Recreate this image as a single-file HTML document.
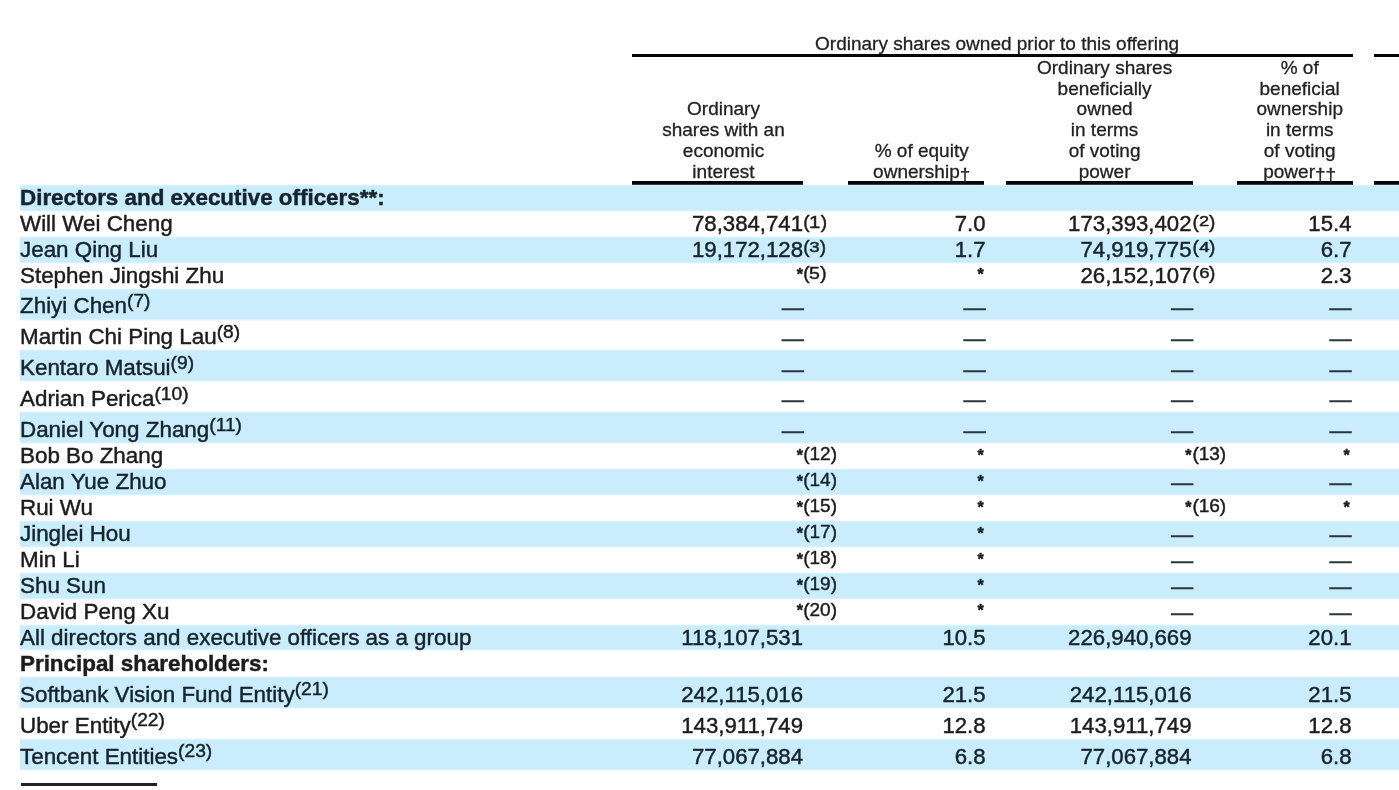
<!DOCTYPE html><html><head><meta charset="utf-8"><title>Ownership table</title><style>
html,body{margin:0;padding:0;background:#fff;}
body{width:1399px;height:790px;overflow:hidden;position:relative;font-family:"Liberation Sans",sans-serif;color:#1c1c1c;}
.row{position:absolute;left:20px;width:1420px;white-space:nowrap;font-size:22.4px;}
.row.s::before{content:'';position:absolute;left:0;right:0;top:-1px;bottom:-1px;background:linear-gradient(to bottom,rgba(201,237,253,0) 0,#c9edfd 2px,#c9edfd calc(100% - 2px),rgba(201,237,253,0) 100%);}
#w{position:absolute;left:0;top:0;width:1440px;height:830px;filter:blur(0.7px);}
.row span{position:absolute;white-space:nowrap;line-height:1;-webkit-text-stroke:0.45px #1c1c1c;}
.row.s span{color:#15232d;-webkit-text-stroke-color:#15232d;}
.n{left:0;}
.b{font-weight:bold;}
.c1,.c2,.c3,.c4{font-size:22.2px;}
.c1{right:637px;}
.c2{right:454.4px;}
.c3{right:248.5px;}
.c4{right:88.5px;}
.f{font-size:19px !important;}
.f i{font-style:normal;position:relative;display:inline-block;}
.a{font-size:16px;font-weight:bold;}
.d{-webkit-text-stroke:0.35px #2c3740 !important;color:#2c3740 !important;}
.c1.d{margin-right:-1px;}.c3.d{margin-right:-1.7px;}.c4.d{margin-right:-0.3px;}
.c2.a,.c4.a{margin-right:1.9px;}
.f1{left:783.2px;}
.f3{left:1172.4px;}
sup{font-size:19.2px;vertical-align:baseline;position:relative;top:-6.5px;line-height:0;}
.hl{position:absolute;background:#050505;height:2.9px;margin-top:0.05px;}
.h{position:absolute;text-align:center;font-size:19px;line-height:20.75px;white-space:nowrap;color:#222;-webkit-text-stroke:0.3px #222;margin-top:0.4px;}
.h b{font-weight:normal;position:relative;top:3px;}
</style></head><body><div id="w">
<div class="hl" style="left:632px;width:721px;top:54px"></div>
<div class="hl" style="left:1374px;width:60px;top:54px"></div>
<div class="hl" style="left:632px;width:171px;top:181.4px;height:3.3px"></div>
<div class="hl" style="left:848px;width:136px;top:181.4px;height:3.3px"></div>
<div class="hl" style="left:1006px;width:187px;top:181.4px;height:3.3px"></div>
<div class="hl" style="left:1237px;width:116px;top:181.4px;height:3.3px"></div>
<div class="hl" style="left:1374px;width:60px;top:181.4px;height:3.3px"></div>
<div class="h" style="left:636.6px;width:721px;top:34.05px">Ordinary shares owned prior to this offering</div>
<div class="h" style="left:638px;width:171px;top:99px">Ordinary<br>shares with an<br>economic<br>interest</div>
<div class="h" style="left:853.7px;width:136px;top:140.5px">% of equity<br>ownership<b>†</b></div>
<div class="h" style="left:1011.1px;width:187px;top:57.45px">Ordinary shares<br>beneficially<br>owned<br>in terms<br>of voting<br>power</div>
<div class="h" style="left:1241.7px;width:116px;top:57.45px">% of<br>beneficial<br>ownership<br>in terms<br>of voting<br>power<b>††</b></div>
<div class="row s" style="top:185.0px;height:25.8px"><span class="n b" style="top:1.96px">Directors and executive officers**:</span></div>
<div class="row" style="top:210.8px;height:25.9px"><span class="n" style="top:2.01px">Will Wei Cheng</span><span class="c1" style="top:2.01px">78,384,741</span><span class="c2" style="top:2.01px">7.0</span><span class="c3" style="top:2.01px">173,393,402</span><span class="c4" style="top:2.01px">15.4</span><span class="f f1" style="top:0.71px">(<i style="font-size:17px;top:0px;transform:scaleX(1.2);margin:0 0.95px">1</i>)</span><span class="f f3" style="top:0.71px">(<i style="font-size:15px;top:-1.1px;transform:scaleX(1.22);margin:0 0.92px">2</i>)</span></div>
<div class="row s" style="top:236.70000000000002px;height:25.9px"><span class="n" style="top:2.01px">Jean Qing Liu</span><span class="c1" style="top:2.01px">19,172,128</span><span class="c2" style="top:2.01px">1.7</span><span class="c3" style="top:2.01px">74,919,775</span><span class="c4" style="top:2.01px">6.7</span><span class="f f1" style="top:0.01px">(<i style="font-size:15.5px;top:-0.6px;transform:scaleX(1.2);margin:0 0.86px">3</i>)</span><span class="f f3" style="top:-0.19px">(<i style="font-size:15.5px;top:-0.6px;transform:scaleX(1.2);margin:0 0.86px">4</i>)</span></div>
<div class="row" style="top:262.6px;height:25.9px"><span class="n" style="top:2.01px">Stephen Jingshi Zhu</span><span class="c1 a" style="top:4.81px">*</span><span class="c2 a" style="top:4.81px">*</span><span class="c3" style="top:2.01px">26,152,107</span><span class="c4" style="top:2.01px">2.3</span><span class="f f1" style="top:0.71px">(<i style="font-size:16px;top:0px;transform:scaleX(1.22);margin:0 0.98px">5</i>)</span><span class="f f3" style="top:0.11px">(<i style="font-size:15.5px;top:-0.6px;transform:scaleX(1.2);margin:0 0.86px">6</i>)</span></div>
<div class="row s" style="top:288.5px;height:31px"><span class="n" style="top:6.86px">Zhiyi Chen<sup>(7)</sup></span><span class="c1 d" style="top:8.11px">—</span><span class="c2 d" style="top:8.11px">—</span><span class="c3 d" style="top:8.11px">—</span><span class="c4 d" style="top:8.11px">—</span></div>
<div class="row" style="top:319.5px;height:30.9px"><span class="n" style="top:6.81px">Martin Chi Ping Lau<sup>(8)</sup></span><span class="c1 d" style="top:8.06px">—</span><span class="c2 d" style="top:8.06px">—</span><span class="c3 d" style="top:8.06px">—</span><span class="c4 d" style="top:8.06px">—</span></div>
<div class="row s" style="top:350.4px;height:31px"><span class="n" style="top:6.86px">Kentaro Matsui<sup>(9)</sup></span><span class="c1 d" style="top:8.11px">—</span><span class="c2 d" style="top:8.11px">—</span><span class="c3 d" style="top:8.11px">—</span><span class="c4 d" style="top:8.11px">—</span></div>
<div class="row" style="top:381.4px;height:30.9px"><span class="n" style="top:6.81px">Adrian Perica<sup>(10)</sup></span><span class="c1 d" style="top:8.06px">—</span><span class="c2 d" style="top:8.06px">—</span><span class="c3 d" style="top:8.06px">—</span><span class="c4 d" style="top:8.06px">—</span></div>
<div class="row s" style="top:412.29999999999995px;height:30.9px"><span class="n" style="top:6.81px">Daniel Yong Zhang<sup>(11)</sup></span><span class="c1 d" style="top:8.06px">—</span><span class="c2 d" style="top:8.06px">—</span><span class="c3 d" style="top:8.06px">—</span><span class="c4 d" style="top:8.06px">—</span></div>
<div class="row" style="top:443.19999999999993px;height:26px"><span class="n" style="top:2.06px">Bob Bo Zhang</span><span class="c1 a" style="top:4.86px">*</span><span class="c2 a" style="top:4.86px">*</span><span class="c3 a" style="top:4.86px">*</span><span class="c4 a" style="top:4.86px">*</span><span class="f f1" style="top:1.26px">(<i style="font-size:19px;top:0px;transform:scaleX(1.0);margin:0 0.00px">12</i>)</span><span class="f f3" style="top:1.26px">(<i style="font-size:19px;top:0px;transform:scaleX(1.0);margin:0 0.00px">13</i>)</span></div>
<div class="row s" style="top:469.19999999999993px;height:25.9px"><span class="n" style="top:2.01px">Alan Yue Zhuo</span><span class="c1 a" style="top:4.81px">*</span><span class="c2 a" style="top:4.81px">*</span><span class="c3 d" style="top:3.26px">—</span><span class="c4 d" style="top:3.26px">—</span><span class="f f1" style="top:1.21px">(<i style="font-size:19px;top:0px;transform:scaleX(1.0);margin:0 0.00px">14</i>)</span></div>
<div class="row" style="top:495.0999999999999px;height:25.9px"><span class="n" style="top:2.01px">Rui Wu</span><span class="c1 a" style="top:4.81px">*</span><span class="c2 a" style="top:4.81px">*</span><span class="c3 a" style="top:4.81px">*</span><span class="c4 a" style="top:4.81px">*</span><span class="f f1" style="top:1.21px">(<i style="font-size:19px;top:0px;transform:scaleX(1.0);margin:0 0.00px">15</i>)</span><span class="f f3" style="top:1.21px">(<i style="font-size:19px;top:0px;transform:scaleX(1.0);margin:0 0.00px">16</i>)</span></div>
<div class="row s" style="top:520.9999999999999px;height:25.9px"><span class="n" style="top:2.01px">Jinglei Hou</span><span class="c1 a" style="top:4.81px">*</span><span class="c2 a" style="top:4.81px">*</span><span class="c3 d" style="top:3.26px">—</span><span class="c4 d" style="top:3.26px">—</span><span class="f f1" style="top:1.21px">(<i style="font-size:19px;top:0px;transform:scaleX(1.0);margin:0 0.00px">17</i>)</span></div>
<div class="row" style="top:546.8999999999999px;height:25.9px"><span class="n" style="top:2.01px">Min Li</span><span class="c1 a" style="top:4.81px">*</span><span class="c2 a" style="top:4.81px">*</span><span class="c3 d" style="top:3.26px">—</span><span class="c4 d" style="top:3.26px">—</span><span class="f f1" style="top:1.21px">(<i style="font-size:19px;top:0px;transform:scaleX(1.0);margin:0 0.00px">18</i>)</span></div>
<div class="row s" style="top:572.7999999999998px;height:25.9px"><span class="n" style="top:2.01px">Shu Sun</span><span class="c1 a" style="top:4.81px">*</span><span class="c2 a" style="top:4.81px">*</span><span class="c3 d" style="top:3.26px">—</span><span class="c4 d" style="top:3.26px">—</span><span class="f f1" style="top:1.21px">(<i style="font-size:19px;top:0px;transform:scaleX(1.0);margin:0 0.00px">19</i>)</span></div>
<div class="row" style="top:598.6999999999998px;height:25.9px"><span class="n" style="top:2.01px">David Peng Xu</span><span class="c1 a" style="top:4.81px">*</span><span class="c2 a" style="top:4.81px">*</span><span class="c3 d" style="top:3.26px">—</span><span class="c4 d" style="top:3.26px">—</span><span class="f f1" style="top:1.21px">(<i style="font-size:19px;top:0px;transform:scaleX(1.0);margin:0 0.00px">20</i>)</span></div>
<div class="row s" style="top:624.5999999999998px;height:25.9px"><span class="n" style="top:2.01px">All directors and executive officers as a group</span><span class="c1" style="top:2.01px">118,107,531</span><span class="c2" style="top:2.01px">10.5</span><span class="c3" style="top:2.01px">226,940,669</span><span class="c4" style="top:2.01px">20.1</span></div>
<div class="row" style="top:650.4999999999998px;height:26.5px"><span class="n b" style="top:2.31px">Principal shareholders:</span></div>
<div class="row s" style="top:676.9999999999998px;height:31px"><span class="n" style="top:6.86px">Softbank Vision Fund Entity<sup>(21)</sup></span><span class="c1" style="top:6.86px">242,115,016</span><span class="c2" style="top:6.86px">21.5</span><span class="c3" style="top:6.86px">242,115,016</span><span class="c4" style="top:6.86px">21.5</span></div>
<div class="row" style="top:707.9999999999998px;height:31px"><span class="n" style="top:6.86px">Uber Entity<sup>(22)</sup></span><span class="c1" style="top:6.86px">143,911,749</span><span class="c2" style="top:6.86px">12.8</span><span class="c3" style="top:6.86px">143,911,749</span><span class="c4" style="top:6.86px">12.8</span></div>
<div class="row s" style="top:738.9999999999998px;height:30.5px"><span class="n" style="top:6.61px">Tencent Entities<sup>(23)</sup></span><span class="c1" style="top:6.61px">77,067,884</span><span class="c2" style="top:6.61px">6.8</span><span class="c3" style="top:6.61px">77,067,884</span><span class="c4" style="top:6.61px">6.8</span></div>
<div style="position:absolute;left:20.5px;width:136.5px;top:783.2px;height:2.4px;background:#222"></div>
</div></body></html>
